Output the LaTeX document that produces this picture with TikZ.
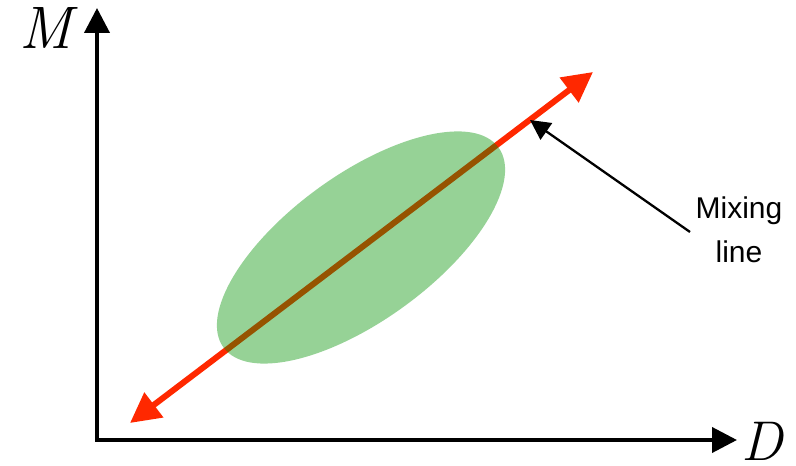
\documentclass[tikz,border=0pt]{standalone}
\usepackage{fontspec}
\newfontfamily\labelfont{Liberation Sans}
\usetikzlibrary{arrows.meta}
\definecolor{mixred}{RGB}{255,40,0}
\definecolor{blobgreen}{RGB}{0,145,0}
\tikzset{
  axisline/.style={line width=4pt,-{Triangle[length=25pt,width=25pt]}},
  mixline/.style={line width=6pt,color=mixred,{Triangle[length=30pt,width=30pt]}-{Triangle[length=30pt,width=30pt]}},
  blob/.style={fill=blobgreen,fill opacity=0.41},
  pointer/.style={line width=2.3pt,-{Triangle[length=20pt,width=20pt]}},
  axislabel/.style={inner sep=0pt,anchor=base},
  annot/.style={inner sep=0pt,align=center,font=\labelfont\fontsize{30}{44}\selectfont}
}
\begin{document}
\begin{tikzpicture}[x=1pt,y=1pt]
\useasboundingbox (0,0) rectangle (796,466);
\coordinate (o) at (97,26);
\coordinate (ytip) at (97,458);
\coordinate (xtip) at (737,26);
\coordinate (r1) at (130,43);
\coordinate (r2) at (593,394);
\coordinate (ptip) at (530,346);
\coordinate (ptail) at (690,234);
\draw[axisline] (o |- 0,28) -- (ytip);
\draw[axisline] (95,26) -- (xtip);
\node[axislabel,font=\fontsize{60}{60}\selectfont\itshape] (mlab) at (46,417) {M};
\node[axislabel,font=\fontsize{56}{56}\selectfont\itshape] (dlab) at (762,5) {D};
\draw[mixline] (r1) -- (r2);
\fill[blob,rotate around={36:(361,218.5)}] (361,218.5) ellipse [x radius=170, y radius=73];
\node[annot] (mix) at (739,236) {Mixing\\line};
\draw[pointer] (ptail) -- (ptip);
\end{tikzpicture}
\end{document}
